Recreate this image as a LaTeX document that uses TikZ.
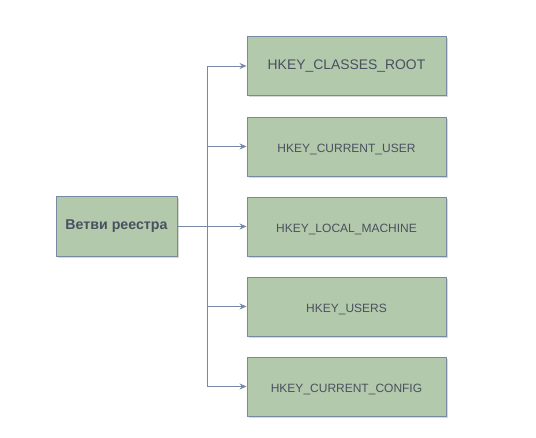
\documentclass[tikz,border=0pt]{standalone}
\usepackage{fontspec}
\setmainfont{Liberation Sans}
\usetikzlibrary{arrows.meta,shadows}
\definecolor{boxfill}{HTML}{B2C9AB}
\definecolor{boxline}{HTML}{788AA3}
\definecolor{txt}{HTML}{4A5060}
\tikzset{
  basebox/.style={draw=boxline, fill=boxfill, line width=0.9pt, minimum width=199pt, minimum height=59pt, inner sep=0pt, text=txt, drop shadow={shadow xshift=1.5pt, shadow yshift=-2pt, opacity=0.25, fill=black!60}},
  keybox/.style={basebox, font=\fontsize{12}{14}\selectfont, text height=11.4pt, text depth=0pt},
  bigkey/.style={basebox, font=\fontsize{13.9}{16}\selectfont},
  rootbox/.style={basebox, minimum width=121pt, minimum height=60pt, font=\fontsize{14.2}{16}\selectfont\bfseries},
  conn/.style={draw=boxline, line width=0.9pt},
  arr/.style={conn, -{Stealth[length=7pt,width=6pt]}}
}
\begin{document}
\begin{tikzpicture}[x=1pt,y=-1pt]
\useasboundingbox[fill=white] (0,0) rectangle (536,438);
\node[rootbox] (root) at (116.5,226) {Ветви реестра};
\node[bigkey] (k1) at (346.5,66) {HKEY\_CLASSES\_ROOT};
\node[keybox] (k2) at (346.5,146.5) {HKEY\_CURRENT\_USER};
\node[keybox] (k3) at (346.5,226.5) {HKEY\_LOCAL\_MACHINE};
\node[keybox] (k4) at (346.5,306.5) {HKEY\_USERS};
\node[keybox] (k5) at (346.5,386.5) {HKEY\_CURRENT\_CONFIG};
\coordinate (j) at (207,0);
\foreach \k in {k1,k2,k3,k4,k5}{
  \draw[arr] (root.east) -| (j |- \k.west) -- (\k.west);
}
\end{tikzpicture}
\end{document}
